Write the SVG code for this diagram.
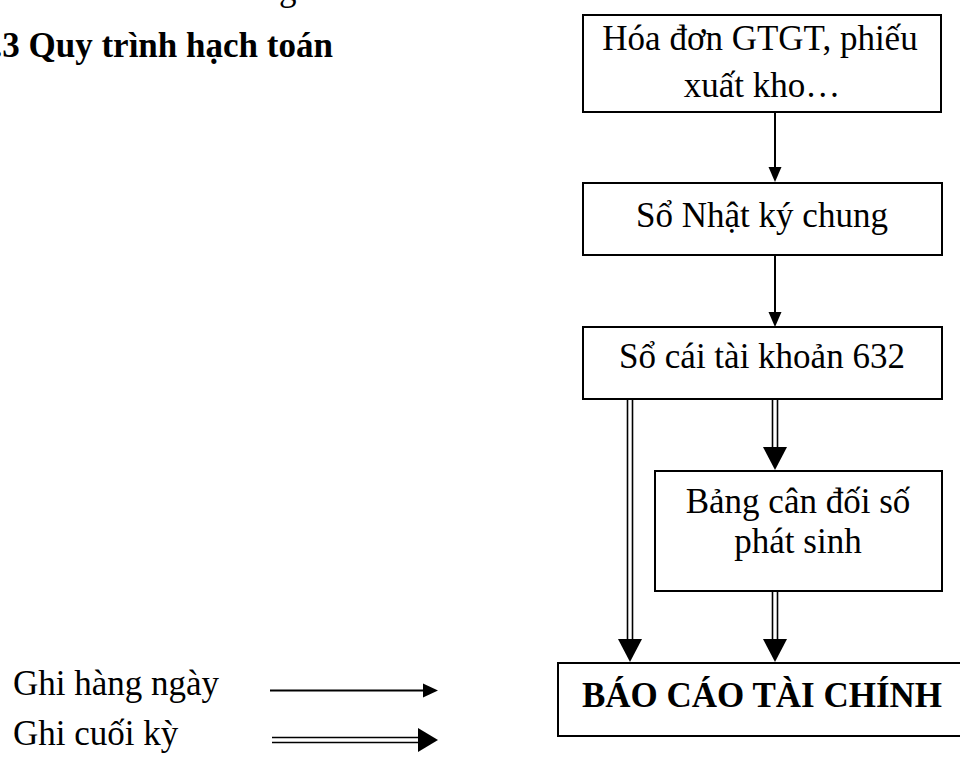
<svg xmlns="http://www.w3.org/2000/svg" width="960" height="758" viewBox="0 0 960 758">
  <style>
    .box { fill: #ffffff; stroke: #000000; stroke-width: 2; }
    .txt { font-family: "Liberation Serif", "Times New Roman", serif; font-size: 35px; fill: #000000; }
    .bold { font-weight: bold; }
    .line { stroke: #000000; stroke-width: 2; fill: none; }
    .dline { stroke: #000000; stroke-width: 1.6; fill: none; }
    .head { fill: #000000; stroke: none; }
  </style>
  <rect x="0" y="0" width="960" height="758" fill="#ffffff"/>

  <!-- section text above the heading (runs off the page top) -->
  <text class="txt" x="108" y="0">Giá vốn hàng hóa</text>

  <!-- heading (numbering runs off the left edge) -->
  <text class="txt bold" x="-24" y="57" font-size="37.5">2.3 Quy trình hạch toán</text>

  <!-- nodes -->
  <g id="hoa-don">
    <rect class="box" x="583" y="15" width="358" height="97"/>
    <text class="txt" x="760" y="50" text-anchor="middle" font-size="35.6">Hóa đơn GTGT, phiếu</text>
    <text class="txt" x="762" y="97" text-anchor="middle" font-size="35.6">xuất kho…</text>
  </g>
  <g id="nhat-ky-chung">
    <rect class="box" x="583" y="183" width="359" height="72"/>
    <text class="txt" x="762" y="227" text-anchor="middle" font-size="34.4">Sổ Nhật ký chung</text>
  </g>
  <g id="so-cai-632">
    <rect class="box" x="583" y="327" width="359" height="72"/>
    <text class="txt" x="762" y="368" text-anchor="middle" font-size="32">Sổ cái tài khoản 632</text>
  </g>
  <g id="bang-can-doi">
    <rect class="box" x="655" y="471" width="287" height="120"/>
    <text class="txt" x="798" y="513" text-anchor="middle" font-size="34.4">Bảng cân đối số</text>
    <text class="txt" x="798" y="553" text-anchor="middle" font-size="34.4">phát sinh</text>
  </g>
  <g id="bao-cao-tai-chinh">
    <rect class="box" x="558" y="663" width="406" height="73"/>
    <text class="txt bold" x="762" y="707" text-anchor="middle" font-size="34.3">BÁO CÁO TÀI CHÍNH</text>
  </g>

  <!-- connectors -->
  <g id="connectors">
    <!-- daily entries: single arrows -->
    <line class="line" x1="775" y1="112" x2="775" y2="168"/>
    <polygon class="head" points="768.5,167 781.5,167 775,182"/>
    <line class="line" x1="775" y1="255" x2="775" y2="313"/>
    <polygon class="head" points="768.5,312 781.5,312 775,327"/>

    <!-- period-end entries: double arrows -->
    <line class="dline" x1="627.5" y1="399" x2="627.5" y2="640"/>
    <line class="dline" x1="632.5" y1="399" x2="632.5" y2="640"/>
    <polygon class="head" points="618,639 642,639 630,662"/>

    <line class="dline" x1="772.5" y1="399" x2="772.5" y2="448"/>
    <line class="dline" x1="777.5" y1="399" x2="777.5" y2="448"/>
    <polygon class="head" points="763,447 787,447 775,470"/>

    <line class="dline" x1="772.5" y1="591" x2="772.5" y2="640"/>
    <line class="dline" x1="777.5" y1="591" x2="777.5" y2="640"/>
    <polygon class="head" points="763,639 787,639 775,662"/>
  </g>

  <!-- legend -->
  <g id="legend">
    <text class="txt" x="13" y="695" font-size="37">Ghi hàng ngày</text>
    <line class="line" x1="270" y1="690.5" x2="424" y2="690.5"/>
    <polygon class="head" points="423,683.5 438,690.5 423,697.5"/>

    <text class="txt" x="13" y="745" font-size="37">Ghi cuối kỳ</text>
    <line class="dline" x1="272" y1="737.5" x2="419" y2="737.5"/>
    <line class="dline" x1="272" y1="742.5" x2="419" y2="742.5"/>
    <polygon class="head" points="418,728 438,740 418,752"/>
  </g>
</svg>
